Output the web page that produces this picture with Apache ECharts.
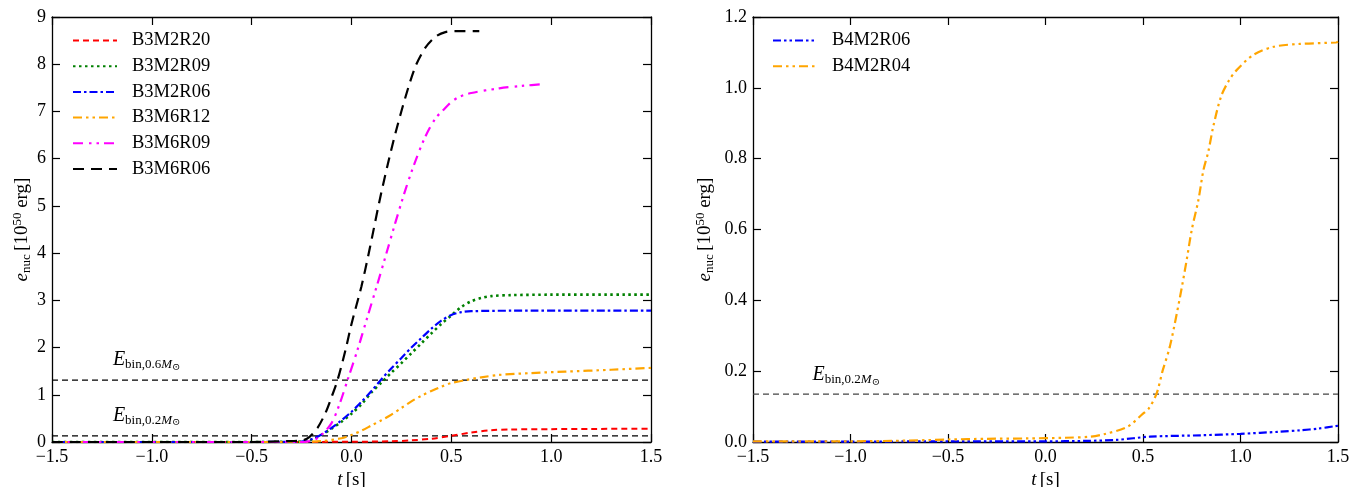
<!DOCTYPE html>
<html><head><meta charset="utf-8">
<script src="https://cdn.jsdelivr.net/npm/echarts@6/dist/echarts.min.js"></script>
<style>html,body{margin:0;padding:0;background:#fff}#c{width:1364px;height:487px}</style>
</head><body><div id="c"></div>
<script>
// ---- Left panel data (t [s], e_nuc [1e50 erg]) ----
const B3M2R20_t = [-1.5,-0.5,0.0,0.2,0.3,0.4,0.5,0.6,0.7,0.8,1.0,1.2,1.5];
const B3M2R20_v = [0.0,0.0,0.005,0.015,0.035,0.07,0.13,0.2,0.25,0.265,0.272,0.277,0.28];
const B3M2R09_t = [-1.5,-0.5,-0.3,-0.25,-0.2,-0.15,-0.1,-0.05,0.0,0.05,0.1,0.15,0.2,0.25,0.3,0.35,0.4,0.45,0.5,0.55,0.6,0.65,0.7,0.8,1.0,1.5];
const B3M2R09_v = [0,0,0.005,0.01,0.05,0.15,0.28,0.43,0.6,0.8,1.05,1.26,1.47,1.67,1.88,2.09,2.3,2.5,2.68,2.86,2.98,3.05,3.09,3.11,3.12,3.12];
const B3M2R06_t = [-1.5,-0.5,-0.3,-0.25,-0.2,-0.15,-0.1,-0.05,0.0,0.05,0.1,0.15,0.2,0.25,0.3,0.35,0.4,0.45,0.5,0.55,0.6,0.8,1.5];
const B3M2R06_v = [0,0,0.005,0.01,0.06,0.16,0.3,0.46,0.64,0.85,1.08,1.33,1.56,1.78,2.0,2.2,2.4,2.57,2.69,2.75,2.77,2.78,2.78];
const B3M6R12_t = [-1.5,-0.3,-0.15,-0.05,0.0,0.05,0.1,0.15,0.2,0.25,0.3,0.35,0.4,0.45,0.5,0.57,0.65,0.74,0.9,1.07,1.3,1.5];
const B3M6R12_v = [0,0,0.02,0.08,0.15,0.24,0.35,0.46,0.58,0.72,0.86,0.98,1.08,1.17,1.25,1.31,1.37,1.42,1.46,1.49,1.53,1.57];
const B3M6R09_t = [-1.5,-0.5,-0.25,-0.19,-0.15,-0.1,-0.06,-0.02,0.03,0.08,0.13,0.18,0.22,0.27,0.32,0.37,0.42,0.46,0.5,0.54,0.6,0.74,0.85,0.97];
const B3M6R09_v = [0,0,0.0,0.04,0.15,0.4,0.8,1.31,1.95,2.65,3.35,4.07,4.65,5.34,5.95,6.47,6.85,7.03,7.2,7.31,7.39,7.49,7.54,7.58];
const B3M6R06_t = [-1.5,-0.5,-0.3,-0.25,-0.21,-0.17,-0.13,-0.1,-0.07,-0.03,0.0,0.05,0.09,0.14,0.18,0.22,0.27,0.32,0.37,0.42,0.47,0.52,0.64];
const B3M6R06_v = [0,0,0.02,0.03,0.11,0.3,0.62,0.95,1.31,1.95,2.5,3.3,4.07,5.1,5.85,6.54,7.3,7.95,8.35,8.58,8.68,8.7,8.7];
// ---- Right panel data ----
const B4M2R06_t = [-1.5,-1.0,-0.5,0.0,0.2,0.365,0.536,0.8,1.0,1.2,1.305,1.4,1.5];
const B4M2R06_v = [0.001,0.001,0.002,0.002,0.003,0.006,0.015,0.019,0.023,0.029,0.033,0.038,0.046];
const B4M2R04_t = [-1.5,-1.0,-0.7,-0.5,-0.3,-0.1,0.1,0.23,0.3,0.42,0.5,0.53,0.57,0.6,0.638,0.69,0.724,0.75,0.784,0.81,0.835,0.86,0.9,0.94,0.98,1.066,1.17,1.305,1.49,1.5];
const B4M2R04_v = [0.002,0.002,0.004,0.007,0.009,0.01,0.012,0.015,0.022,0.043,0.08,0.095,0.137,0.2,0.27,0.41,0.514,0.599,0.683,0.768,0.82,0.89,0.975,1.02,1.05,1.093,1.116,1.124,1.128,1.13];
// binding energies
const Ebin_left = [1.31, 0.13];
const Ebin_left_labels = ['0.6', '0.2'];
const Ebin_right = [0.135];
const Ebin_right_labels = ['0.2'];
const xRange = [-1.5, 1.5];

const leftNames = ['B3M2R20','B3M2R09','B3M2R06','B3M6R12','B3M6R09','B3M6R06'];
const rightNames = ['B4M2R06','B4M2R04'];

const FONT = 'Liberation Serif, DejaVu Serif, serif';
const zip = (t, v) => t.map((x, i) => [x, v[i]]);
const fmtX = v => v.toFixed(1).replace('-', '\u2212');

function mkLine(name, t, v, color, type, width, xi, yi) {
  return { name, type: 'line', xAxisIndex: xi, yAxisIndex: yi, data: zip(t, v),
    showSymbol: false, symbol: 'none', smooth: 0.3, animation: false, z: 5,
    lineStyle: { color, type, width, cap: 'butt' }, itemStyle: { color } };
}
function refLine(val, xi, yi, color) {
  return { type: 'line', xAxisIndex: xi, yAxisIndex: yi, data: [[xRange[0], val], [xRange[1], val]],
    showSymbol: false, symbol: 'none', animation: false, silent: true, z: 3,
    lineStyle: { color, type: [6, 4], width: 1.3 } };
}

const axisLineStyle = { onZero: false, lineStyle: { color: '#000', width: 1.3 } };
const tickStyle = { inside: true, length: 8, lineStyle: { color: '#000', width: 1.2 } };
const labelStyle = { color: '#000', fontFamily: FONT, fontSize: 18 };
const nameRich = {
  i: { fontFamily: FONT, fontStyle: 'italic', fontSize: 19, color: '#000' },
  r: { fontFamily: FONT, fontSize: 19, color: '#000' },
  sub: { fontFamily: FONT, fontSize: 13, color: '#000', padding: [9, 0, 0, 0] },
  sup: { fontFamily: FONT, fontSize: 13, color: '#000', padding: [0, 0, 9, 0] }
};

function xAxes(gi) {
  return [
    { gridIndex: gi, type: 'value', min: xRange[0], max: xRange[1], interval: 0.5, position: 'bottom',
      axisLine: axisLineStyle, axisTick: tickStyle, splitLine: { show: false },
      axisLabel: Object.assign({ formatter: fmtX, margin: 6 }, labelStyle),
      name: '{i|t} {r|[s]}', nameLocation: 'middle', nameGap: 27, nameTextStyle: { rich: nameRich } },
    { gridIndex: gi, type: 'value', min: xRange[0], max: xRange[1], interval: 0.5, position: 'top',
      axisLine: axisLineStyle, axisTick: tickStyle, splitLine: { show: false }, axisLabel: { show: false } }
  ];
}
function yAxes(gi, max, interval, fmt, gap) {
  return [
    { gridIndex: gi, type: 'value', min: 0, max, interval, position: 'left',
      axisLine: axisLineStyle, axisTick: tickStyle, splitLine: { show: false },
      axisLabel: Object.assign({ formatter: fmt, margin: 6 }, labelStyle),
      name: '{i|e}{sub|nuc} {r|[10}{sup|50}{r| erg]}', nameLocation: 'middle', nameGap: gap, nameRotate: 90,
      nameTextStyle: { rich: nameRich } },
    { gridIndex: gi, type: 'value', min: 0, max, interval, position: 'right',
      axisLine: axisLineStyle, axisTick: tickStyle, splitLine: { show: false }, axisLabel: { show: false } }
  ];
}

const series = [
  mkLine('B3M2R20', B3M2R20_t, B3M2R20_v, '#ff0000', [6, 4], 2, 0, 0),
  mkLine('B3M2R09', B3M2R09_t, B3M2R09_v, '#008000', [2.5, 3.5], 2.6, 0, 0),
  mkLine('B3M2R06', B3M2R06_t, B3M2R06_v, '#0000ff', [8, 3, 2.5, 3], 2.2, 0, 0),
  mkLine('B3M6R12', B3M6R12_t, B3M6R12_v, '#ffa500', [9, 4, 2.5, 4, 2.5, 4], 2.2, 0, 0),
  mkLine('B3M6R09', B3M6R09_t, B3M6R09_v, '#ff00ff', [10, 6, 2.5, 5, 2.5, 5], 2.2, 0, 0),
  mkLine('B3M6R06', B3M6R06_t, B3M6R06_v, '#000000', [11, 7], 2.2, 0, 0),
  mkLine('B4M2R06', B4M2R06_t, B4M2R06_v, '#0000ff', [8, 3, 2.5, 3, 2.5, 3], 2.2, 2, 2),
  mkLine('B4M2R04', B4M2R04_t, B4M2R04_v, '#ffa500', [9, 4, 2.5, 4, 2.5, 4], 2.2, 2, 2)
];
Ebin_left.forEach(v => series.push(refLine(v, 0, 0, '#000')));
Ebin_right.forEach(v => series.push(refLine(v, 2, 2, '#444')));

const legendBase = { orient: 'vertical', itemWidth: 44, itemHeight: 14, itemGap: 6.7, padding: 0,
  itemStyle: { opacity: 0 },
  textStyle: { fontFamily: FONT, fontSize: 18.5, color: '#000', padding: [0, 0, 0, 10] } };

const chart = echarts.init(document.getElementById('c'), null, { renderer: 'canvas' });
chart.setOption({
  backgroundColor: '#fff',
  animation: false,
  grid: [
    { left: 52, right: 713, top: 17, bottom: 45, outerBoundsMode: 'none', containLabel: false },
    { left: 753, right: 26, top: 17, bottom: 45, outerBoundsMode: 'none', containLabel: false }
  ],
  xAxis: [...xAxes(0), ...xAxes(1)],
  yAxis: [...yAxes(0, 9, 1, v => String(v), 14), ...yAxes(1, 1.2, 0.2, v => v.toFixed(1), 37)],
  legend: [
    Object.assign({}, legendBase, { data: leftNames, left: 72, top: 31 }),
    Object.assign({}, legendBase, { data: rightNames, left: 772, top: 31 })
  ],
  series
});

// E_bin labels, positioned through the axes
const ebRich = {
  E: { fontFamily: FONT, fontStyle: 'italic', fontSize: 20, color: '#000' },
  s: { fontFamily: FONT, fontSize: 13, color: '#000', padding: [10, 0, 0, 0] },
  si: { fontFamily: FONT, fontStyle: 'italic', fontSize: 13, color: '#000', padding: [10, 0, 0, 0] },
  so: { fontFamily: FONT, fontSize: 10, color: '#000', padding: [15, 0, 0, 0] }
};
const gfx = [];
Ebin_left.forEach((v, i) => {
  const p = chart.convertToPixel({ xAxisIndex: 0, yAxisIndex: 0 }, [-1.2, v]);
  gfx.push({ type: 'text', x: p[0] + 1, y: p[1] - 33, z: 10,
    style: { text: '{E|E}{s|bin,' + Ebin_left_labels[i] + '}{si|M}{so|\u2299}', rich: ebRich } });
});
Ebin_right.forEach((v, i) => {
  const p = chart.convertToPixel({ xAxisIndex: 2, yAxisIndex: 2 }, [-1.2, v]);
  gfx.push({ type: 'text', x: p[0] + 1, y: p[1] - 32, z: 10,
    style: { text: '{E|E}{s|bin,' + Ebin_right_labels[i] + '}{si|M}{so|\u2299}', rich: ebRich } });
});
chart.setOption({ graphic: gfx });
</script></body></html>
